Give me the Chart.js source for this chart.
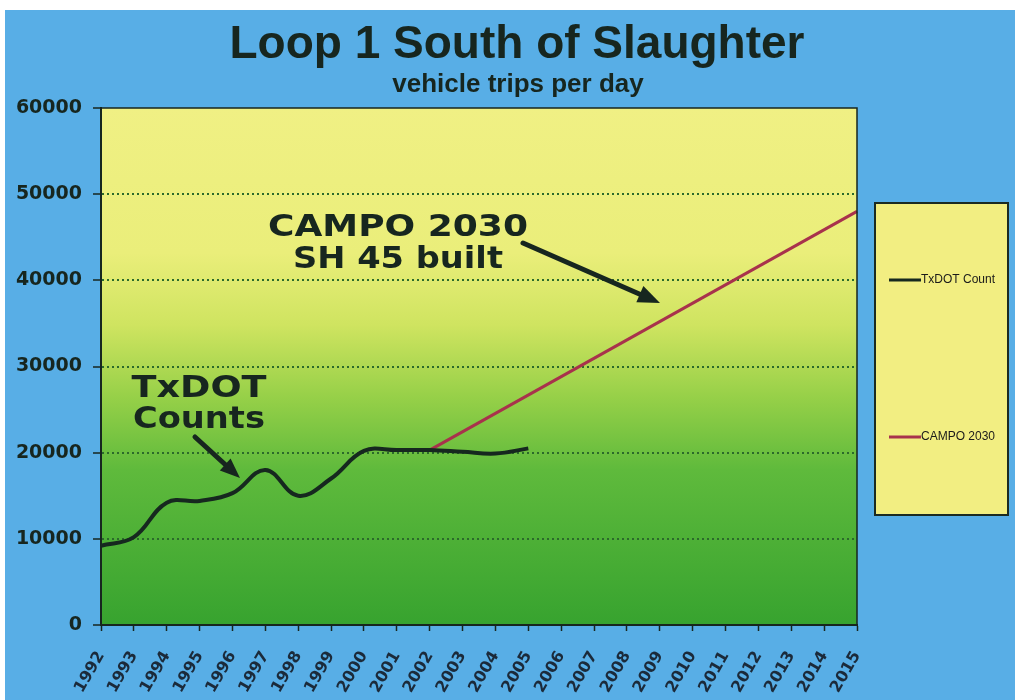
<!DOCTYPE html>
<html>
<head>
<meta charset="utf-8">
<title>Loop 1 South of Slaughter</title>
<script src="https://cdn.jsdelivr.net/npm/chart.js@4.4.1/dist/chart.umd.min.js"></script>
<style>
  html, body { margin: 0; padding: 0; background: #fff; }
  #chart { display: block; }
</style>
</head>
<body>
<canvas id="chart" width="1015" height="700"></canvas>
<script>
    "use strict";

    // Data
    var years = ['1992', '1993', '1994', '1995', '1996', '1997', '1998', '1999', '2000', '2001', '2002', '2003',
                 '2004', '2005', '2006', '2007', '2008', '2009', '2010', '2011', '2012', '2013', '2014', '2015'];
    var txdotCount = [9200, 10200, 14200, 14400, 15300, 18000, 15000, 17000, 20200, 20300, 20300, 20100,
                      19900, 20500, null, null, null, null, null, null, null, null, null, null];
    // straight projection: only the two ends are drawn, the line spans the gap
    var campo2030 = [null, null, null, null, null, null, null, null, null, null, 20300, null,
                     null, null, null, null, null, null, null, null, null, null, null, 48000];
    var yTickLabels = ['0', '10000', '20000', '30000', '40000', '50000', '60000'];
    var seriesNames = ['TxDOT Count', 'CAMPO 2030'];

    var INK = '#17261f';
    var GRID = '#2b6a2a';

    // Blue slide background + gradient plot area
    var backdrop = {
        id: 'backdrop',
        beforeDraw: function (chart) {
            var ctx = chart.ctx, a = chart.chartArea;
            ctx.save();
            ctx.fillStyle = '#ffffff';
            ctx.fillRect(0, 0, chart.width, chart.height);
            ctx.fillStyle = '#58aee6';
            ctx.fillRect(5, 10, chart.width - 5, chart.height - 10);
            var g = ctx.createLinearGradient(0, a.top, 0, a.bottom);
            g.addColorStop(0, '#f0f084');
            g.addColorStop(0.28, '#eaee7a');
            g.addColorStop(0.42, '#cfe460');
            g.addColorStop(0.56, '#96d048');
            g.addColorStop(0.7, '#5fba3c');
            g.addColorStop(1, '#37a32f');
            ctx.fillStyle = g;
            ctx.fillRect(a.left, a.top, a.right - a.left, a.bottom - a.top);
            ctx.restore();
        }
    };

    function arrow(ctx, x1, y1, x2, y2, w, head) {
        var a = Math.atan2(y2 - y1, x2 - x1);
        var c = Math.cos(a), s = Math.sin(a);
        ctx.lineWidth = w;
        ctx.lineCap = 'round';
        ctx.beginPath();
        ctx.moveTo(x1, y1);
        ctx.lineTo(x2 - head * 0.8 * c, y2 - head * 0.8 * s);
        ctx.stroke();
        ctx.beginPath();
        ctx.moveTo(x2, y2);
        ctx.lineTo(x2 - head * c + head * 0.4 * s, y2 - head * s - head * 0.4 * c);
        ctx.lineTo(x2 - head * c - head * 0.4 * s, y2 - head * s + head * 0.4 * c);
        ctx.closePath();
        ctx.fill();
    }

    // the slide was scanned a bit wide, so callout text is stretched to its width
    function wideText(ctx, text, cx, y, width) {
        var w = ctx.measureText(text).width;
        ctx.save();
        ctx.translate(cx, y);
        ctx.scale(width / w, 1);
        ctx.fillText(text, 0, 0);
        ctx.restore();
    }

    // Titles, frame, callouts and the boxed legend
    var extras = {
        id: 'extras',
        afterDraw: function (chart) {
            var ctx = chart.ctx, a = chart.chartArea;
            ctx.save();

            // plot frame top / right
            ctx.strokeStyle = INK;
            ctx.lineWidth = 1.5;
            ctx.beginPath();
            ctx.moveTo(a.left, a.top);
            ctx.lineTo(a.right, a.top);
            ctx.lineTo(a.right, a.bottom);
            ctx.stroke();

            ctx.fillStyle = INK;
            ctx.textAlign = 'center';
            ctx.textBaseline = 'alphabetic';
            ctx.font = 'bold 46px "Liberation Sans", Arial, sans-serif';
            ctx.fillText('Loop 1 South of Slaughter', 517, 58);
            ctx.font = 'bold 26px "Liberation Sans", Arial, sans-serif';
            ctx.fillText('vehicle trips per day', 518, 92);

            // callouts
            ctx.font = 'bold 31px "DejaVu Sans", sans-serif';
            wideText(ctx, 'CAMPO 2030', 398, 236, 260);
            wideText(ctx, 'SH 45 built', 398, 268, 210);
            ctx.font = 'bold 30px "DejaVu Sans", sans-serif';
            wideText(ctx, 'TxDOT', 199, 397, 135);
            wideText(ctx, 'Counts', 199, 428, 132);
            ctx.strokeStyle = INK;
            arrow(ctx, 523, 243, 660, 303, 5, 22);
            arrow(ctx, 195, 437, 240, 478, 5, 20);

            // legend box
            ctx.fillStyle = '#f2ee82';
            ctx.fillRect(875, 203, 133, 312);
            ctx.strokeStyle = '#1b2a22';
            ctx.lineWidth = 2;
            ctx.strokeRect(875, 203, 133, 312);
            var rows = [280, 437];
            ctx.font = '12px "Liberation Sans", Arial, sans-serif';
            ctx.textAlign = 'left';
            ctx.textBaseline = 'middle';
            chart.data.datasets.forEach(function (ds, i) {
                ctx.strokeStyle = ds.borderColor;
                ctx.lineWidth = 3;
                ctx.lineCap = 'butt';
                ctx.beginPath();
                ctx.moveTo(889, rows[i]);
                ctx.lineTo(921, rows[i]);
                ctx.stroke();
                ctx.fillStyle = '#1a1a1a';
                ctx.fillText(ds.label, 921, rows[i]);
            });
            ctx.restore();
        }
    };

    var ctx1 = document.getElementById('chart').getContext('2d');
    var myChart = new Chart(ctx1, {
        type: 'line',
        data: {
            labels: years,
            datasets: [{
                    label: seriesNames[0],
                    data: txdotCount,
                    borderColor: '#16281f',
                    borderWidth: 4,
                    tension: 0.4,
                    pointRadius: 0,
                    spanGaps: false
                },
                {
                    label: seriesNames[1],
                    data: campo2030,
                    borderColor: '#a8324c',
                    borderWidth: 3,
                    pointRadius: 0,
                    spanGaps: true
                }
            ]
        },
        options: {
            responsive: false,
            animation: false,
            layout: { padding: { top: 108, right: 158, left: 0, bottom: 0 } },
            plugins: {
                legend: { display: false },
                tooltip: { enabled: false }
            },
            scales: {
                x: {
                    afterFit: function (s) { s.height = 75; },
                    border: { display: true, color: INK, width: 2 },
                    grid: {
                        drawOnChartArea: false,
                        tickLength: 6,
                        tickColor: INK,
                        tickWidth: 1.5
                    },
                    ticks: {
                        autoSkip: false,
                        minRotation: 60,
                        maxRotation: 60,
                        padding: 17,
                        color: '#1b2a3a',
                        font: { family: '"DejaVu Sans", sans-serif', size: 16, weight: 'bold' }
                    }
                },
                y: {
                    min: 0,
                    max: 60000,
                    afterFit: function (s) { s.width = 101; },
                    border: { display: true, color: INK, width: 2, dash: [2, 3] },
                    grid: {
                        color: function (c) {
                            var v = c.tick ? c.tick.value : 0;
                            return (v === 0 || v === 60000) ? 'rgba(0,0,0,0)' : GRID;
                        },
                        lineWidth: 2,
                        tickLength: 8,
                        tickColor: INK,
                        tickWidth: 1.5,
                        tickBorderDash: []
                    },
                    ticks: {
                        stepSize: 10000,
                        padding: 11,
                        color: INK,
                        font: { family: '"DejaVu Sans", sans-serif', size: 19, weight: 'bold' },
                        callback: function (v, i) { return yTickLabels[i]; }
                    }
                }
            }
        },
        plugins: [backdrop, extras]
    });
</script>
</body>
</html>
